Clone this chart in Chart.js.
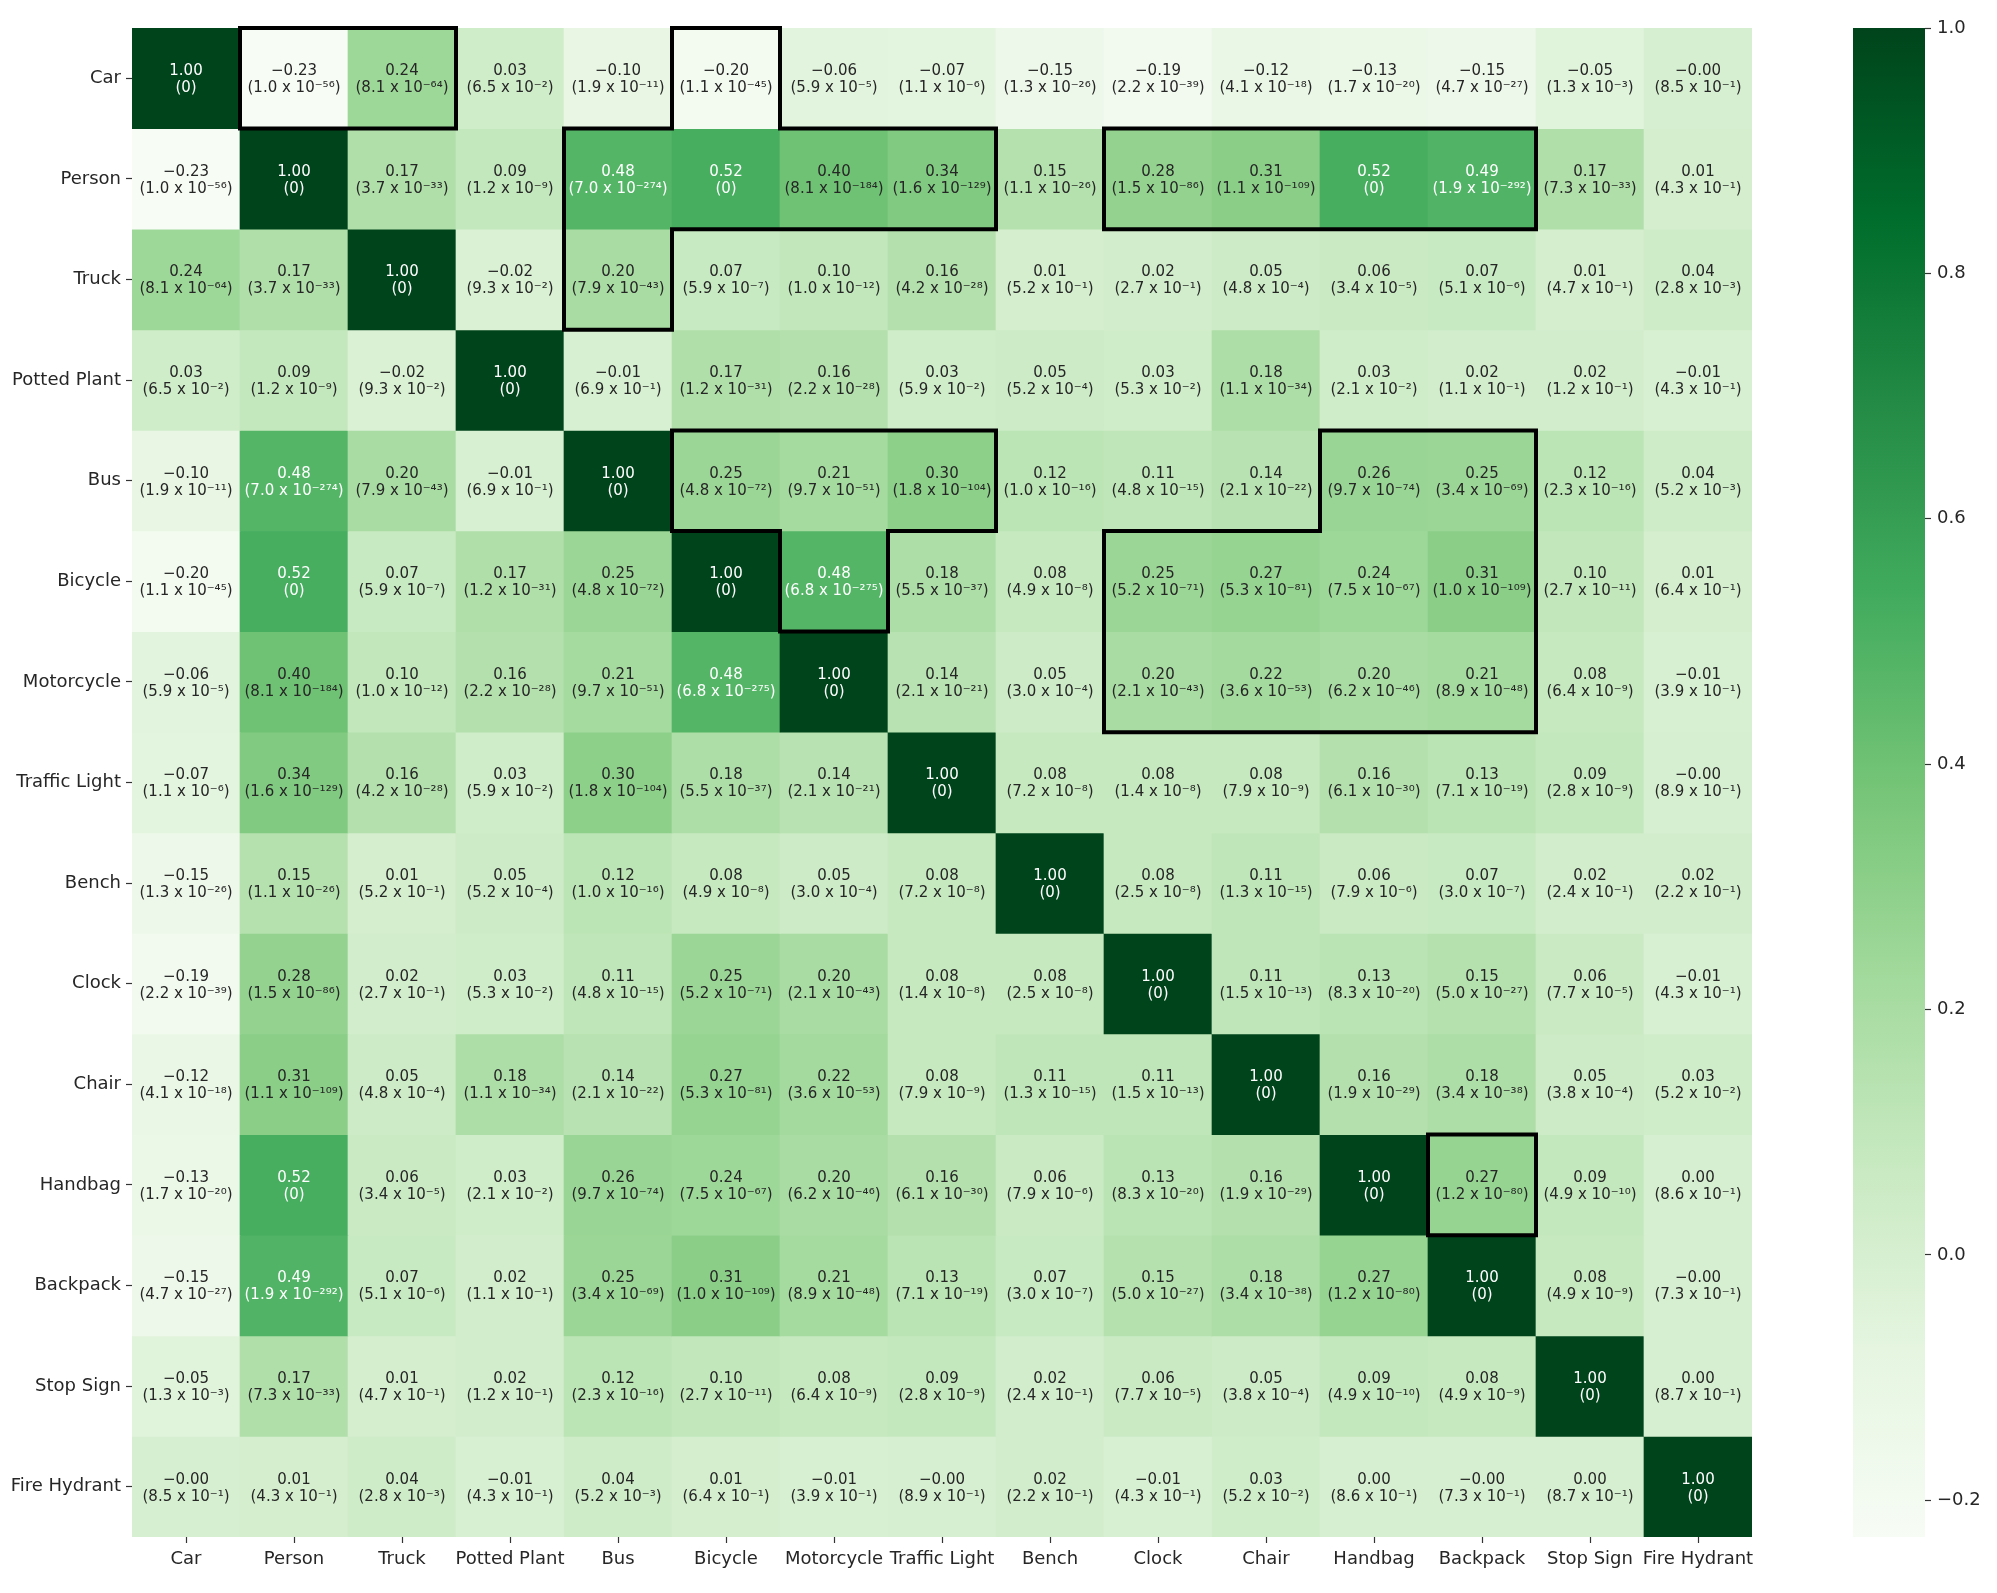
<!DOCTYPE html>
<html>
<head>
<meta charset="utf-8">
<title>Correlation heatmap</title>
<script src="https://cdn.jsdelivr.net/npm/chart.js@4.4.1/dist/chart.umd.min.js"></script>
<style>
  html, body { margin: 0; padding: 0; background: #fff; }
  #wrap { position: relative; width: 1997px; height: 1593px; }
  #heatBox { position: absolute; left: 0; top: 0; width: 1790px; height: 1593px; }
  #cbarBox { position: absolute; left: 1790px; top: 0; width: 207px; height: 1593px; }
</style>
</head>
<body>
<div id="wrap">
  <div id="heatBox"><canvas id="heat"></canvas></div>
  <div id="cbarBox"><canvas id="cbar"></canvas></div>
</div>
<script>
const rowLabels = ["Car", "Person", "Truck", "Potted Plant", "Bus", "Bicycle", "Motorcycle",
  "Traffic Light", "Bench", "Clock", "Chair", "Handbag", "Backpack", "Stop Sign", "Fire Hydrant"];
const colLabels = rowLabels.slice();

// correlation coefficients (rows follow rowLabels); -0.002 / 0.002 stand for the printed "-0.00" / "0.00"
const corr = [
  [1.00, -0.23, 0.24, 0.03, -0.10, -0.20, -0.06, -0.07, -0.15, -0.19, -0.12, -0.13, -0.15, -0.05, -0.002],
  [-0.23, 1.00, 0.17, 0.09, 0.48, 0.52, 0.40, 0.34, 0.15, 0.28, 0.31, 0.52, 0.49, 0.17, 0.01],
  [0.24, 0.17, 1.00, -0.02, 0.20, 0.07, 0.10, 0.16, 0.01, 0.02, 0.05, 0.06, 0.07, 0.01, 0.04],
  [0.03, 0.09, -0.02, 1.00, -0.01, 0.17, 0.16, 0.03, 0.05, 0.03, 0.18, 0.03, 0.02, 0.02, -0.01],
  [-0.10, 0.48, 0.20, -0.01, 1.00, 0.25, 0.21, 0.30, 0.12, 0.11, 0.14, 0.26, 0.25, 0.12, 0.04],
  [-0.20, 0.52, 0.07, 0.17, 0.25, 1.00, 0.48, 0.18, 0.08, 0.25, 0.27, 0.24, 0.31, 0.10, 0.01],
  [-0.06, 0.40, 0.10, 0.16, 0.21, 0.48, 1.00, 0.14, 0.05, 0.20, 0.22, 0.20, 0.21, 0.08, -0.01],
  [-0.07, 0.34, 0.16, 0.03, 0.30, 0.18, 0.14, 1.00, 0.08, 0.08, 0.08, 0.16, 0.13, 0.09, -0.002],
  [-0.15, 0.15, 0.01, 0.05, 0.12, 0.08, 0.05, 0.08, 1.00, 0.08, 0.11, 0.06, 0.07, 0.02, 0.02],
  [-0.19, 0.28, 0.02, 0.03, 0.11, 0.25, 0.20, 0.08, 0.08, 1.00, 0.11, 0.13, 0.15, 0.06, -0.01],
  [-0.12, 0.31, 0.05, 0.18, 0.14, 0.27, 0.22, 0.08, 0.11, 0.11, 1.00, 0.16, 0.18, 0.05, 0.03],
  [-0.13, 0.52, 0.06, 0.03, 0.26, 0.24, 0.20, 0.16, 0.06, 0.13, 0.16, 1.00, 0.27, 0.09, 0.002],
  [-0.15, 0.49, 0.07, 0.02, 0.25, 0.31, 0.21, 0.13, 0.07, 0.15, 0.18, 0.27, 1.00, 0.08, -0.002],
  [-0.05, 0.17, 0.01, 0.02, 0.12, 0.10, 0.08, 0.09, 0.02, 0.06, 0.05, 0.09, 0.08, 1.00, 0.002],
  [-0.002, 0.01, 0.04, -0.01, 0.04, 0.01, -0.01, -0.002, 0.02, -0.01, 0.03, 0.002, -0.002, 0.002, 1.00],
];

// p-values, printed as "(m x 10^e)"
const pvals = [
  ["0", "1.0e-56", "8.1e-64", "6.5e-2", "1.9e-11", "1.1e-45", "5.9e-5", "1.1e-6", "1.3e-26", "2.2e-39", "4.1e-18", "1.7e-20", "4.7e-27", "1.3e-3", "8.5e-1"],
  ["1.0e-56", "0", "3.7e-33", "1.2e-9", "7.0e-274", "0", "8.1e-184", "1.6e-129", "1.1e-26", "1.5e-86", "1.1e-109", "0", "1.9e-292", "7.3e-33", "4.3e-1"],
  ["8.1e-64", "3.7e-33", "0", "9.3e-2", "7.9e-43", "5.9e-7", "1.0e-12", "4.2e-28", "5.2e-1", "2.7e-1", "4.8e-4", "3.4e-5", "5.1e-6", "4.7e-1", "2.8e-3"],
  ["6.5e-2", "1.2e-9", "9.3e-2", "0", "6.9e-1", "1.2e-31", "2.2e-28", "5.9e-2", "5.2e-4", "5.3e-2", "1.1e-34", "2.1e-2", "1.1e-1", "1.2e-1", "4.3e-1"],
  ["1.9e-11", "7.0e-274", "7.9e-43", "6.9e-1", "0", "4.8e-72", "9.7e-51", "1.8e-104", "1.0e-16", "4.8e-15", "2.1e-22", "9.7e-74", "3.4e-69", "2.3e-16", "5.2e-3"],
  ["1.1e-45", "0", "5.9e-7", "1.2e-31", "4.8e-72", "0", "6.8e-275", "5.5e-37", "4.9e-8", "5.2e-71", "5.3e-81", "7.5e-67", "1.0e-109", "2.7e-11", "6.4e-1"],
  ["5.9e-5", "8.1e-184", "1.0e-12", "2.2e-28", "9.7e-51", "6.8e-275", "0", "2.1e-21", "3.0e-4", "2.1e-43", "3.6e-53", "6.2e-46", "8.9e-48", "6.4e-9", "3.9e-1"],
  ["1.1e-6", "1.6e-129", "4.2e-28", "5.9e-2", "1.8e-104", "5.5e-37", "2.1e-21", "0", "7.2e-8", "1.4e-8", "7.9e-9", "6.1e-30", "7.1e-19", "2.8e-9", "8.9e-1"],
  ["1.3e-26", "1.1e-26", "5.2e-1", "5.2e-4", "1.0e-16", "4.9e-8", "3.0e-4", "7.2e-8", "0", "2.5e-8", "1.3e-15", "7.9e-6", "3.0e-7", "2.4e-1", "2.2e-1"],
  ["2.2e-39", "1.5e-86", "2.7e-1", "5.3e-2", "4.8e-15", "5.2e-71", "2.1e-43", "1.4e-8", "2.5e-8", "0", "1.5e-13", "8.3e-20", "5.0e-27", "7.7e-5", "4.3e-1"],
  ["4.1e-18", "1.1e-109", "4.8e-4", "1.1e-34", "2.1e-22", "5.3e-81", "3.6e-53", "7.9e-9", "1.3e-15", "1.5e-13", "0", "1.9e-29", "3.4e-38", "3.8e-4", "5.2e-2"],
  ["1.7e-20", "0", "3.4e-5", "2.1e-2", "9.7e-74", "7.5e-67", "6.2e-46", "6.1e-30", "7.9e-6", "8.3e-20", "1.9e-29", "0", "1.2e-80", "4.9e-10", "8.6e-1"],
  ["4.7e-27", "1.9e-292", "5.1e-6", "1.1e-1", "3.4e-69", "1.0e-109", "8.9e-48", "7.1e-19", "3.0e-7", "5.0e-27", "3.4e-38", "1.2e-80", "0", "4.9e-9", "7.3e-1"],
  ["1.3e-3", "7.3e-33", "4.7e-1", "1.2e-1", "2.3e-16", "2.7e-11", "6.4e-9", "2.8e-9", "2.4e-1", "7.7e-5", "3.8e-4", "4.9e-10", "4.9e-9", "0", "8.7e-1"],
  ["8.5e-1", "4.3e-1", "2.8e-3", "4.3e-1", "5.2e-3", "6.4e-1", "3.9e-1", "8.9e-1", "2.2e-1", "4.3e-1", "5.2e-2", "8.6e-1", "7.3e-1", "8.7e-1", "0"],
];

// outlined groups of cells, [row, col]
const highlightGroups = [
  [[0, 1], [0, 2]],
  [[0, 5], [1, 4], [1, 5], [1, 6], [1, 7], [2, 4]],
  [[1, 9], [1, 10], [1, 11], [1, 12]],
  [[4, 5], [4, 6], [4, 7], [5, 6]],
  [[4, 11], [4, 12], [5, 9], [5, 10], [5, 11], [5, 12], [6, 9], [6, 10], [6, 11], [6, 12]],
  [[11, 12]],
];

const colorbarTicks = [-0.2, 0.0, 0.2, 0.4, 0.6, 0.8, 1.0];
const vmin = -0.23;
const vmax = 1.0;

// matplotlib "Greens"
const GREENS = ["#f7fcf5", "#e5f5e0", "#c7e9c0", "#a1d99b", "#74c476", "#41ab5d", "#238b45", "#006d2c", "#00441b"];
const FONT = '"DejaVu Sans", "Liberation Sans", sans-serif';
const DARK_TEXT = "#262626";

function hexToRgb(h) {
  return [1, 3, 5].map((i) => parseInt(h.slice(i, i + 2), 16));
}
const greensRgb = GREENS.map(hexToRgb);

function cmapRgb(v) {
  let t = (v - vmin) / (vmax - vmin);
  t = Math.max(0, Math.min(1, t)) * (GREENS.length - 1);
  const i = Math.min(Math.floor(t), GREENS.length - 2);
  const f = t - i;
  const a = greensRgb[i], b = greensRgb[i + 1];
  return a.map((c, k) => Math.round(c + (b[k] - c) * f));
}
function cmap(v) {
  const [r, g, b] = cmapRgb(v);
  return `rgb(${r},${g},${b})`;
}

// seaborn picks the annotation colour by luminance
function textColor(v) {
  const lin = (c) => {
    c /= 255;
    return c <= 0.03928 ? c / 12.92 : Math.pow((c + 0.055) / 1.055, 2.4);
  };
  const [r, g, b] = cmapRgb(v);
  const lum = 0.2126 * lin(r) + 0.7152 * lin(g) + 0.0722 * lin(b);
  return lum > 0.408 ? DARK_TEXT : "#ffffff";
}

const SUP = { "-": "⁻", 0: "⁰", 1: "¹", 2: "²", 3: "³", 4: "⁴", 5: "⁵", 6: "⁶", 7: "⁷", 8: "⁸", 9: "⁹" };
function fmtVal(v) {
  return (v < 0 ? "−" : "") + Math.abs(v).toFixed(2);
}
function fmtP(p) {
  if (p === "0") return "(0)";
  const [m, e] = p.split("e");
  const sup = e.split("").map((ch) => SUP[ch]).join("");
  return `(${m} x 10${sup})`;
}

const cellText = {
  id: "cellText",
  afterDatasetsDraw(chart) {
    const { ctx, scales: { x, y } } = chart;
    ctx.save();
    ctx.textAlign = "center";
    ctx.textBaseline = "middle";
    ctx.font = `15px ${FONT}`;
    corr.forEach((row, r) => {
      const cy = y.getPixelForValue(r + 0.5);
      row.forEach((v, c) => {
        const cx = x.getPixelForValue(c);
        ctx.fillStyle = textColor(v);
        ctx.fillText(fmtVal(v), cx, cy - 7);
        ctx.fillText(fmtP(pvals[r][c]), cx, cy + 10);
      });
    });
    ctx.restore();
  },
};

const outlines = {
  id: "outlines",
  afterDraw(chart) {
    const { ctx, scales: { x, y } } = chart;
    const cw = x.width / colLabels.length;
    const left = (c) => x.getPixelForValue(c) - cw / 2;
    ctx.save();
    ctx.strokeStyle = "#000";
    ctx.lineWidth = 4;
    ctx.lineCap = "square";
    highlightGroups.forEach((group) => {
      const has = new Set(group.map(([r, c]) => r + "," + c));
      const inGroup = (r, c) => has.has(r + "," + c);
      ctx.beginPath();
      group.forEach(([r, c]) => {
        const x0 = left(c), x1 = left(c + 1);
        const y0 = y.getPixelForValue(r), y1 = y.getPixelForValue(r + 1);
        if (!inGroup(r - 1, c)) { ctx.moveTo(x0, y0); ctx.lineTo(x1, y0); }
        if (!inGroup(r + 1, c)) { ctx.moveTo(x0, y1); ctx.lineTo(x1, y1); }
        if (!inGroup(r, c - 1)) { ctx.moveTo(x0, y0); ctx.lineTo(x0, y1); }
        if (!inGroup(r, c + 1)) { ctx.moveTo(x1, y0); ctx.lineTo(x1, y1); }
      });
      ctx.stroke();
    });
    ctx.restore();
  },
};

const tickFont = { family: FONT, size: 18 };

new Chart(document.getElementById("heat"), {
  type: "bar",
  data: {
    labels: colLabels,
    datasets: corr.map((row, r) => ({
      label: rowLabels[r],
      data: row.map(() => [r, r + 1]),
      backgroundColor: row.map(cmap),
      borderWidth: 0,
      grouped: false,
      barPercentage: 1,
      categoryPercentage: 1,
    })),
  },
  options: {
    responsive: true,
    maintainAspectRatio: false,
    animation: false,
    layout: { padding: { left: 0, right: 38, top: 28, bottom: 0 } },
    plugins: { legend: { display: false }, tooltip: { enabled: false } },
    scales: {
      x: {
        type: "category",
        afterFit: (s) => { s.height = 56; },
        grid: { offset: false, drawOnChartArea: false, tickLength: 6, tickColor: "#333", tickWidth: 1.2 },
        border: { display: false },
        ticks: { font: tickFont, color: DARK_TEXT, padding: 6, maxRotation: 0, autoSkip: false },
      },
      y: {
        type: "linear",
        min: 0,
        max: rowLabels.length,
        reverse: true,
        afterBuildTicks: (s) => { s.ticks = rowLabels.map((_, i) => ({ value: i + 0.5 })); },
        afterFit: (s) => { s.width = 132; },
        grid: { drawOnChartArea: false, tickLength: 6, tickColor: "#333", tickWidth: 1.2 },
        border: { display: false },
        ticks: {
          font: tickFont,
          color: DARK_TEXT,
          padding: 5,
          autoSkip: false,
          callback: (v, i) => rowLabels[i],
        },
      },
    },
  },
  plugins: [cellText, outlines],
});

// colour bar
new Chart(document.getElementById("cbar"), {
  type: "bar",
  data: {
    labels: [""],
    datasets: [{
      data: [[vmin, vmax]],
      borderWidth: 0,
      barPercentage: 1,
      categoryPercentage: 1,
      backgroundColor: (ctx) => {
        const { chart } = ctx;
        const area = chart.chartArea;
        if (!area) return GREENS[4];
        const g = chart.ctx.createLinearGradient(0, area.bottom, 0, area.top);
        GREENS.forEach((c, i) => g.addColorStop(i / (GREENS.length - 1), c));
        return g;
      },
    }],
  },
  options: {
    responsive: true,
    maintainAspectRatio: false,
    animation: false,
    layout: { padding: { left: 63, right: 0, top: 28, bottom: 56 } },
    plugins: { legend: { display: false }, tooltip: { enabled: false } },
    scales: {
      x: { display: false },
      y: {
        type: "linear",
        position: "right",
        min: vmin,
        max: vmax,
        afterBuildTicks: (s) => { s.ticks = colorbarTicks.map((v) => ({ value: v })); },
        afterFit: (s) => { s.width = 72; },
        grid: { drawOnChartArea: false, tickLength: 6, tickColor: "#333", tickWidth: 1.2 },
        border: { display: false },
        ticks: {
          font: tickFont,
          color: DARK_TEXT,
          padding: 6,
          callback: (v) => (v < 0 ? "−" : "") + Math.abs(v).toFixed(1),
        },
      },
    },
  },
});
</script>
</body>
</html>
